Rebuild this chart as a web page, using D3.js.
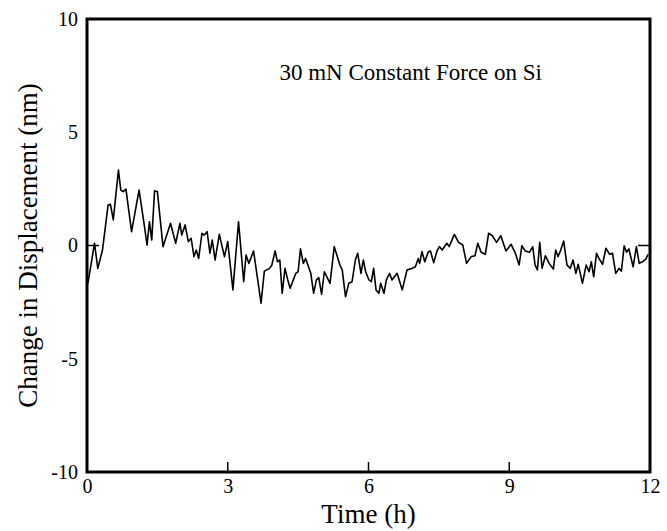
<!DOCTYPE html>
<html><head><meta charset="utf-8">
<script src="https://cdn.jsdelivr.net/npm/d3@7/dist/d3.min.js"></script>
<style>html,body{margin:0;padding:0;background:#fff;} svg text{font-family:'Liberation Serif','Times New Roman',serif;}</style>
</head><body>
<script>
const timeH = [0.02,0.16,0.23,0.33,0.45,0.50,0.56,0.67,0.72,0.77,0.83,0.95,1.11,1.21,1.28,1.33,1.38,1.44,1.50,1.62,1.78,1.89,1.98,
2.02,2.09,2.16,2.22,2.28,2.33,2.38,2.45,2.50,2.56,2.62,2.67,2.73,2.82,2.93,3.00,3.11,3.23,3.34,3.39,3.45,3.55,3.71,3.78,3.89,
3.94,4.01,4.06,4.11,4.16,4.22,4.28,4.33,4.45,4.50,4.55,4.61,4.66,4.77,4.83,4.89,4.94,5.00,5.06,5.18,5.27,5.39,5.44,5.51,5.58,5.65,5.72,5.77,5.84,5.89,
5.94,6.01,6.06,6.11,6.16,6.22,6.26,6.33,6.38,6.45,6.50,6.61,6.72,6.82,6.93,7.00,7.06,7.09,7.14,7.20,7.27,7.32,7.39,7.46,7.51,7.57,7.67,7.72,7.83,7.92,
8.01,8.09,8.19,8.27,8.33,8.40,8.49,8.56,8.64,8.73,8.82,8.93,9.04,9.13,9.21,9.27,9.34,9.43,9.50,9.55,9.60,9.65,9.70,9.77,9.85,9.94,
9.99,10.04,10.09,10.16,10.23,10.30,10.36,10.42,10.47,10.52,10.56,10.64,10.70,10.75,10.80,10.86,10.91,10.99,11.06,11.14,11.20,11.27,11.34,11.39,11.45,11.50,11.55,11.64,11.71,11.77,11.84,11.91,11.96];
const displacement = [-1.67,0.10,-1.01,-0.20,1.79,1.82,1.13,3.33,2.45,2.38,2.49,0.61,2.45,1.05,0.02,1.05,0.24,2.41,2.38,-0.05,0.98,0.10,0.98,
0.46,0.91,0.17,0.32,-0.49,-0.20,-0.57,0.54,0.46,0.61,-0.34,0.24,-0.64,0.49,-0.49,0.17,-1.96,1.05,-1.60,-0.42,-0.79,-0.24,-2.55,-1.13,-1.01,
-0.86,-0.24,-0.72,-0.64,-2.11,-1.01,-1.52,-1.89,-1.23,-1.16,-0.15,-0.79,-0.57,-1.23,-2.11,-1.52,-1.42,-2.15,-1.16,-1.67,-0.05,-0.86,-1.08,-2.26,-1.67,-1.60,-0.64,-0.34,-1.23,-0.64,
-1.16,-1.52,-1.60,-1.01,-1.96,-2.11,-1.67,-2.11,-1.52,-1.23,-1.52,-1.23,-1.96,-1.08,-1.01,-0.94,-0.57,-0.79,-0.27,-0.72,-0.30,-0.24,-0.76,-0.24,-0.05,-0.20,0.10,-0.05,0.49,0.14,
0.02,-0.79,-0.49,-0.45,0.10,-0.30,-0.39,0.54,0.43,0.14,0.43,-0.24,0.05,-0.34,-0.86,-0.01,-0.24,-0.30,-0.05,-0.86,-1.08,0.14,-1.01,-0.45,-0.79,-1.04,
-0.20,-0.49,-0.24,0.20,-0.86,-1.01,-0.64,-1.23,-0.83,-1.30,-1.67,-0.86,-1.16,-0.72,-1.38,-0.34,-0.57,-0.83,-0.12,-0.39,-0.34,-1.23,-1.01,-1.13,-0.01,-0.30,-0.15,-0.94,-0.05,-0.79,-0.72,-0.60,-0.39];
const xTicks = [0,3,6,9,12];
const yTicks = [-10,-5,0,5,10];
const xTitle = "Time (h)";
const yTitle = "Change in Displacement (nm)";
const chartTitle = "30 mN Constant Force on Si";

const W = 667, H = 531;
const L = 87, R = 650, T = 19, B = 472;
const svg = d3.select("body").append("svg").attr("width", W).attr("height", H);
const x = d3.scaleLinear().domain([0,12]).range([L,R]);
const y = d3.scaleLinear().domain([-10,10]).range([B,T]);
const fmt = d => String(d);

// data line
const pts = timeH.map((t,i)=>[t, displacement[i]]);
svg.append("path").datum(pts)
  .attr("d", d3.line().x(d=>x(d[0])).y(d=>y(d[1])))
  .attr("fill","none").attr("stroke","#000").attr("stroke-width",1.6).attr("stroke-linejoin","round");

// bottom axis labels
const xAxis = d3.axisBottom(x).tickValues(xTicks).tickSize(0).tickPadding(7).tickFormat(fmt);
const gx = svg.append("g").attr("transform",`translate(0,${B})`).call(xAxis);
gx.select(".domain").remove();
gx.attr("font-family",null);
gx.selectAll("text").attr("font-size",20).attr("fill","#000");
// inward ticks at interior x values
svg.append("g").selectAll("line").data(xTicks.filter(d=>d>0&&d<12)).join("line")
  .attr("x1",d=>x(d)).attr("x2",d=>x(d)).attr("y1",B).attr("y2",B-10)
  .attr("stroke","#000").attr("stroke-width",1.5);

// left axis labels
const yAxis = d3.axisLeft(y).tickValues(yTicks).tickSize(0).tickPadding(9).tickFormat(fmt);
const gy = svg.append("g").attr("transform",`translate(${L},0)`).call(yAxis);
gy.select(".domain").remove();
gy.attr("font-family",null);
gy.selectAll("text").attr("font-size",20).attr("fill","#000");

// zero ticks on left and right
svg.append("line").attr("x1",L).attr("x2",L+12).attr("y1",y(0)).attr("y2",y(0)).attr("stroke","#000").attr("stroke-width",1.5);
svg.append("line").attr("x1",R-12).attr("x2",R).attr("y1",y(0)).attr("y2",y(0)).attr("stroke","#000").attr("stroke-width",1.5);

// frame
svg.append("rect").attr("x",L).attr("y",T).attr("width",R-L).attr("height",B-T)
  .attr("fill","none").attr("stroke","#000").attr("stroke-width",3);

// titles
svg.append("text").attr("x",(L+R)/2).attr("y",523).attr("text-anchor","middle")
  .attr("font-size",27).text(xTitle);
svg.append("text").attr("transform",`translate(37,${(T+B)/2}) rotate(-90)`).attr("text-anchor","middle")
  .attr("font-size",27).text(yTitle);
svg.append("text").attr("x",x(6.9)).attr("y",80).attr("text-anchor","middle")
  .attr("font-size",23).text(chartTitle);
</script>
</body></html>
